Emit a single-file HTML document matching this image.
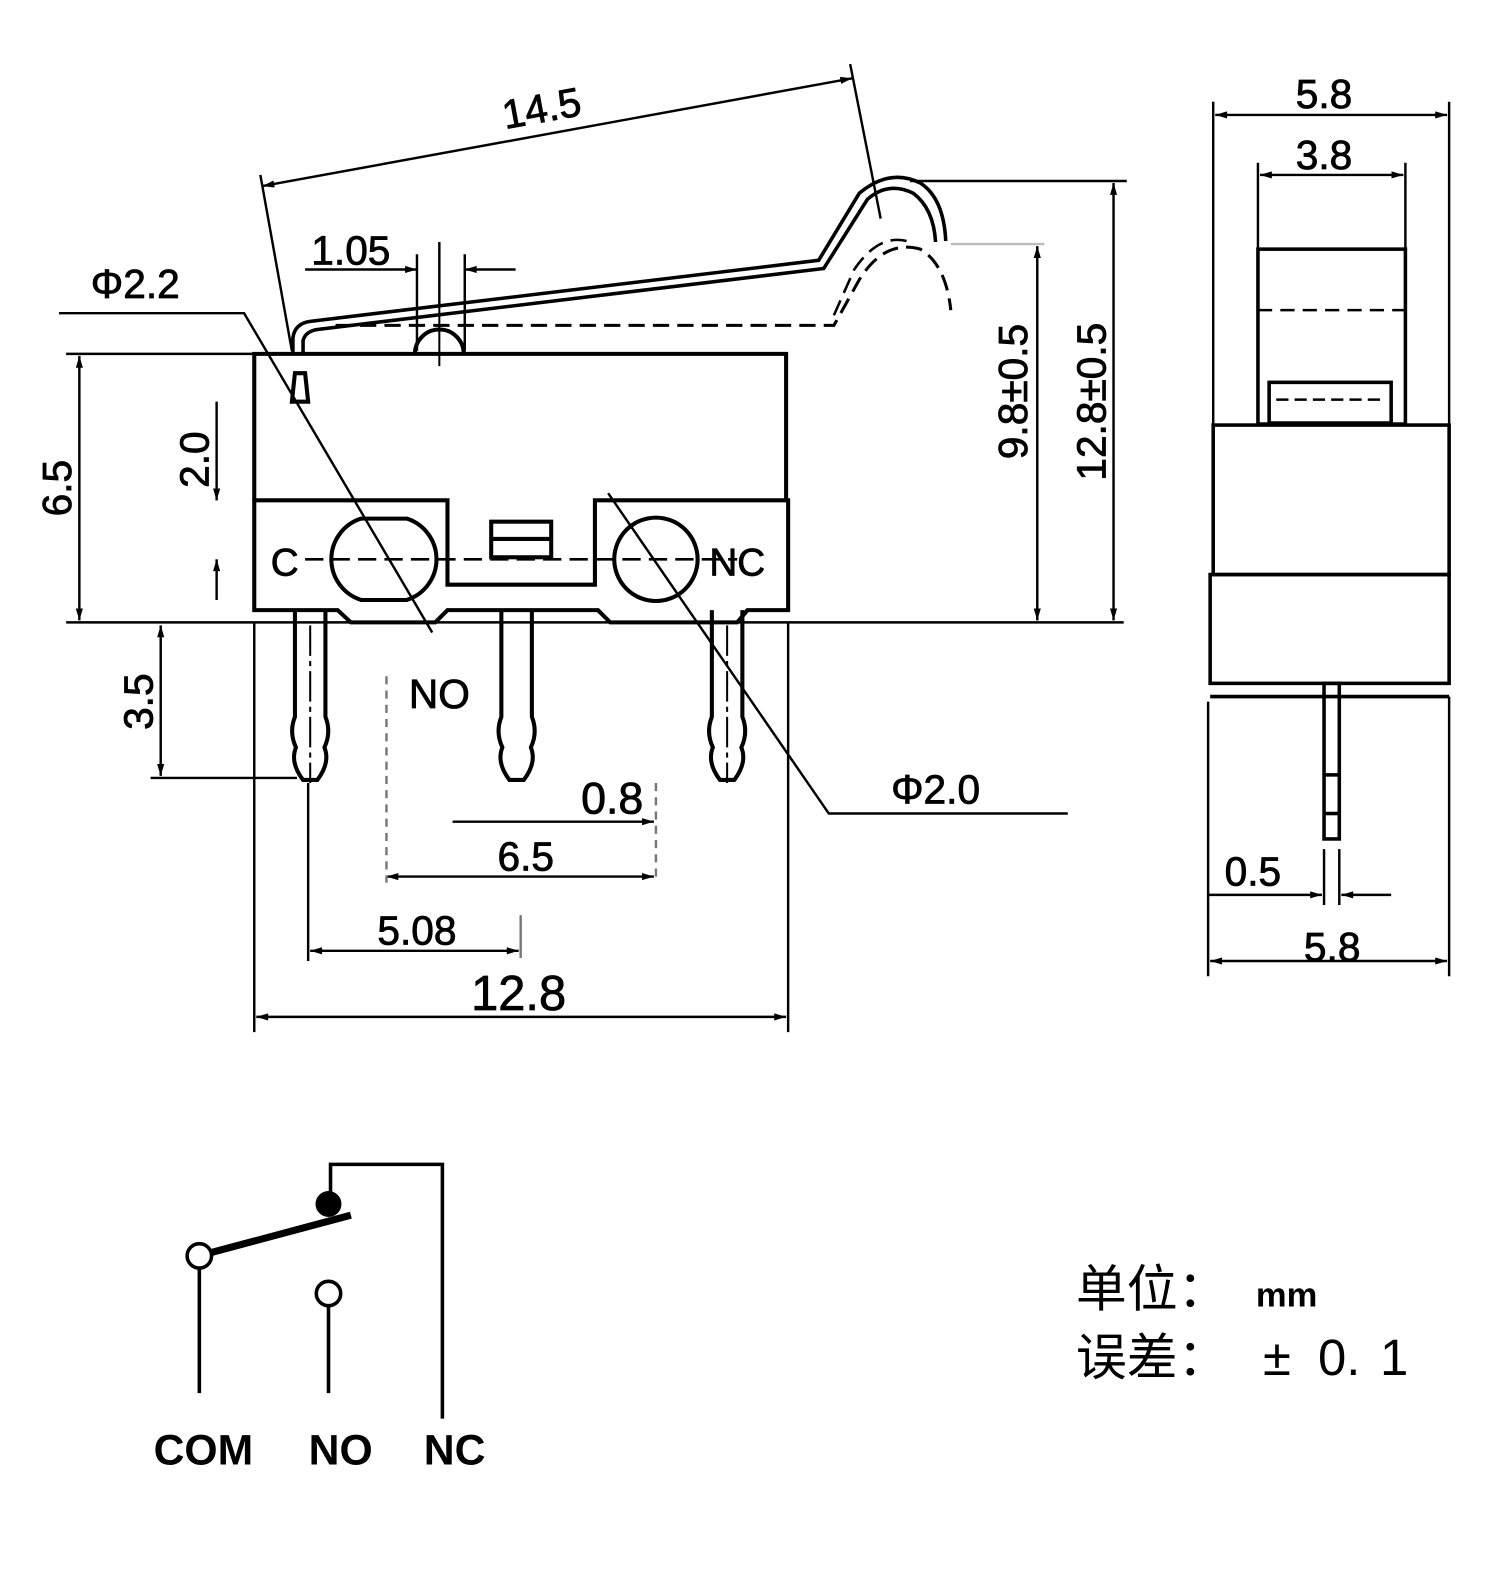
<!DOCTYPE html>
<html><head><meta charset="utf-8"><style>
html,body{margin:0;padding:0;background:#fff;}
svg{display:block}
text{font-family:"Liberation Sans","DejaVu Sans",sans-serif;fill:#000}
.t text{stroke:#000;stroke-width:0.8}
</style></head><body>
<svg width="1500" height="1594" viewBox="0 0 1475 1567.5" xmlns="http://www.w3.org/2000/svg">
<defs>
<marker id="a" viewBox="0 0 10 6" refX="10" refY="3" markerWidth="16" markerHeight="7" orient="auto-start-reverse" markerUnits="userSpaceOnUse"><path d="M0,0 L10,3 L0,6 z" fill="#000"/></marker>
</defs>
<g stroke="#000" fill="none" stroke-width="4">
<path d="M250,492 V348 H773 V492"/>
<path d="M250,600 V492 H440 V575 H585 V492 H775 V600 H735 L725,612 H695 L685,612 L600,612 L588,600 H440 L428,612 H345 L332,600 Z"/>
<path d="M355,510 H400 A42,42 0 0 1 400,590 H355 A42,42 0 0 1 355,510 Z"/>
<circle cx="645" cy="550" r="41"/>
<rect x="483" y="513" width="59" height="35"/><line x1="483" y1="530" x2="542" y2="530"/>
<line x1="300" y1="550" x2="725" y2="550" stroke-dasharray="18,8" stroke-width="2.5"/>
<path d="M287,395 L290,367 H300 L303,395 Z"/>
<path d="M290,600 V705 Q284,720 291,735 Q285,750 298,767 H312 Q325,750 319,735 Q326,720 320,705 V600"/>
<path d="M493,600 V705 Q487,720 494,735 Q488,750 501,767 H515 Q528,750 522,735 Q529,720 523,705 V600"/>
<path d="M700,600 V705 Q694,720 701,735 Q695,750 708,767 H722 Q735,750 729,735 Q736,720 730,705 V600"/>
<line x1="305" y1="615" x2="305" y2="770" stroke-width="2" stroke-dasharray="30,5,5,5"/>
<line x1="715" y1="615" x2="715" y2="770" stroke-width="2" stroke-dasharray="30,5,5,5"/>
<path d="M288,348 V332 Q290,318 305,316 L805,256 L845,190 Q875,165 905,180 Q928,195 930,237" stroke-width="3.5"/>
<path d="M298,348 V335 Q300,326 312,324 L810,264 L853,196 Q873,178 898,190 Q918,205 920,238" stroke-width="3.5"/>
<path d="M408,348 A24,24 0 0 1 456,348"/>
<line x1="432" y1="300" x2="432" y2="360" stroke-width="2"/>
<path d="M330,320 H820 L845,275 Q870,235 905,245 Q930,260 935,305" stroke-dasharray="16,8" stroke-width="3"/>
<path d="M820,310 L840,265 Q865,228 895,238" stroke-dasharray="16,8" stroke-width="2.5"/>
</g>
<g stroke="#000" fill="none" stroke-width="2.4">
<line x1="258" y1="183" x2="838" y2="77" marker-start="url(#a)" marker-end="url(#a)"/>
<line x1="256" y1="172" x2="287" y2="345"/><line x1="836" y1="63" x2="866" y2="215"/>
<line x1="300" y1="265" x2="410" y2="265" marker-end="url(#a)"/><line x1="457" y1="265" x2="507" y2="265" marker-start="url(#a)"/>
<line x1="410" y1="250" x2="410" y2="345"/><line x1="457" y1="250" x2="457" y2="345"/><line x1="432" y1="238" x2="432" y2="300"/>
<path d="M58,308 H240 L425,622"/>
<path d="M1050,800 H815 L598,485"/>
<line x1="65" y1="612" x2="1105" y2="612"/>
<line x1="65" y1="348" x2="250" y2="348"/>
<line x1="78" y1="350" x2="78" y2="610" marker-start="url(#a)" marker-end="url(#a)"/>
<line x1="213" y1="395" x2="213" y2="492" marker-end="url(#a)"/><line x1="213" y1="550" x2="213" y2="590" marker-start="url(#a)"/>
<line x1="158" y1="615" x2="158" y2="763" marker-start="url(#a)" marker-end="url(#a)"/>
<line x1="148" y1="765" x2="292" y2="765"/>
<line x1="1020" y1="242" x2="1020" y2="610" marker-start="url(#a)" marker-end="url(#a)"/>
<line x1="935" y1="240" x2="1027" y2="240" stroke="#bbb"/>
<line x1="1095" y1="180" x2="1095" y2="610" marker-start="url(#a)" marker-end="url(#a)"/>
<line x1="895" y1="178" x2="1108" y2="178"/>
<line x1="445" y1="808" x2="643" y2="808" marker-end="url(#a)"/>
<line x1="380" y1="862" x2="643" y2="862" marker-start="url(#a)" marker-end="url(#a)"/>
<line x1="305" y1="935" x2="510" y2="935" marker-start="url(#a)" marker-end="url(#a)"/>
<line x1="252" y1="1000" x2="773" y2="1000" marker-start="url(#a)" marker-end="url(#a)"/>
<line x1="250" y1="612" x2="250" y2="1015"/><line x1="775" y1="612" x2="775" y2="1015"/>
<line x1="303" y1="770" x2="303" y2="945"/>
<line x1="380" y1="665" x2="380" y2="868" stroke-dasharray="8,6" stroke="#777"/>
<line x1="645" y1="770" x2="645" y2="868" stroke-dasharray="8,6" stroke="#777"/>
<line x1="512" y1="900" x2="512" y2="942" stroke="#777"/>
</g>
<g class="t">
<text x="535" y="120" font-size="40" text-anchor="middle" transform="rotate(-10.4 535 120)">14.5</text>
<text x="345" y="260" font-size="40" text-anchor="middle">1.05</text>
<text x="133" y="293" font-size="40" text-anchor="middle">Φ2.2</text>
<text x="920" y="790" font-size="40" text-anchor="middle">Φ2.0</text>
<text x="70" y="480" font-size="40" text-anchor="middle" transform="rotate(-90 70 480)">6.5</text>
<text x="205" y="452" font-size="40" text-anchor="middle" transform="rotate(-90 205 452)">2.0</text>
<text x="150" y="690" font-size="40" text-anchor="middle" transform="rotate(-90 150 690)">3.5</text>
<text x="1010" y="385" font-size="40" text-anchor="middle" transform="rotate(-90 1010 385)">9.8±0.5</text>
<text x="1087" y="395" font-size="40" text-anchor="middle" transform="rotate(-90 1087 395)">12.8±0.5</text>
<text x="602" y="800" font-size="44" text-anchor="middle">0.8</text>
<text x="517" y="856" font-size="40" text-anchor="middle">6.5</text>
<text x="410" y="929" font-size="40" text-anchor="middle">5.08</text>
<text x="510" y="993" font-size="48" text-anchor="middle">12.8</text>
<text x="280" y="566" font-size="38" text-anchor="middle" font-family="Liberation Serif">C</text>
<text x="725" y="566" font-size="38" text-anchor="middle" font-family="Liberation Serif">NC</text>
<text x="432" y="696" font-size="40" text-anchor="middle" font-family="Liberation Serif">NO</text>
</g>
<g stroke="#000" fill="none" stroke-width="3.5">
<rect x="1237" y="245" width="145" height="172"/>
<line x1="1237" y1="305" x2="1382" y2="305" stroke-dasharray="14,8" stroke-width="2.5"/>
<rect x="1248" y="376" width="120" height="40"/>
<line x1="1255" y1="393" x2="1362" y2="393" stroke-dasharray="12,6" stroke-width="2.5"/>
<rect x="1193" y="418" width="232" height="147"/>
<rect x="1190" y="565" width="235" height="107"/>
<line x1="1190" y1="685" x2="1425" y2="685"/>
<rect x="1302" y="672" width="15" height="153"/>
<line x1="1302" y1="762" x2="1317" y2="762"/><line x1="1302" y1="800" x2="1317" y2="800"/>
</g>
<g stroke="#000" fill="none" stroke-width="2.4">
<line x1="1195" y1="113" x2="1423" y2="113" marker-start="url(#a)" marker-end="url(#a)"/>
<line x1="1193" y1="100" x2="1193" y2="418"/><line x1="1425" y1="100" x2="1425" y2="418"/>
<line x1="1239" y1="172" x2="1380" y2="172" marker-start="url(#a)" marker-end="url(#a)"/>
<line x1="1237" y1="160" x2="1237" y2="245"/><line x1="1382" y1="160" x2="1382" y2="245"/>
<line x1="1188" y1="880" x2="1300" y2="880" marker-end="url(#a)"/><line x1="1319" y1="880" x2="1368" y2="880" marker-start="url(#a)"/>
<line x1="1302" y1="835" x2="1302" y2="890"/><line x1="1317" y1="835" x2="1317" y2="890"/>
<line x1="1190" y1="945" x2="1423" y2="945" marker-start="url(#a)" marker-end="url(#a)"/>
<line x1="1188" y1="690" x2="1188" y2="960"/><line x1="1425" y1="685" x2="1425" y2="960"/>
</g>
<g class="t">
<text x="1302" y="106" font-size="40" text-anchor="middle">5.8</text>
<text x="1302" y="166" font-size="40" text-anchor="middle">3.8</text>
<text x="1232" y="871" font-size="40" text-anchor="middle">0.5</text>
<text x="1310" y="945" font-size="40" text-anchor="middle">5.8</text>
</g>
<g stroke="#000" fill="none" stroke-width="3.5">
<line x1="203" y1="1233" x2="345" y2="1195" stroke-width="7"/>
<circle cx="196" cy="1235" r="12" fill="#fff"/>
<line x1="196" y1="1247" x2="196" y2="1370"/>
<circle cx="323" cy="1184" r="11" fill="#000"/>
<path d="M325,1175 V1145 H435 V1395"/>
<circle cx="323" cy="1272" r="12" fill="#fff"/>
<line x1="323" y1="1284" x2="323" y2="1370"/>
</g>
<g font-weight="bold" font-size="42" text-anchor="middle">
<text x="200" y="1440">COM</text><text x="335" y="1440">NO</text><text x="447" y="1440">NC</text>
</g>
<text x="1058" y="1285" font-size="50" font-family="'Liberation Sans','Noto Sans CJK SC',sans-serif">单位：<tspan x="1235" font-size="34" font-weight="bold">mm</tspan></text>
<text x="1058" y="1352" font-size="50" font-family="'Liberation Sans','Noto Sans CJK SC',sans-serif">误差：<tspan x="1242">±</tspan><tspan x="1296">0.</tspan><tspan x="1357">1</tspan></text>
</svg>
</body></html>
